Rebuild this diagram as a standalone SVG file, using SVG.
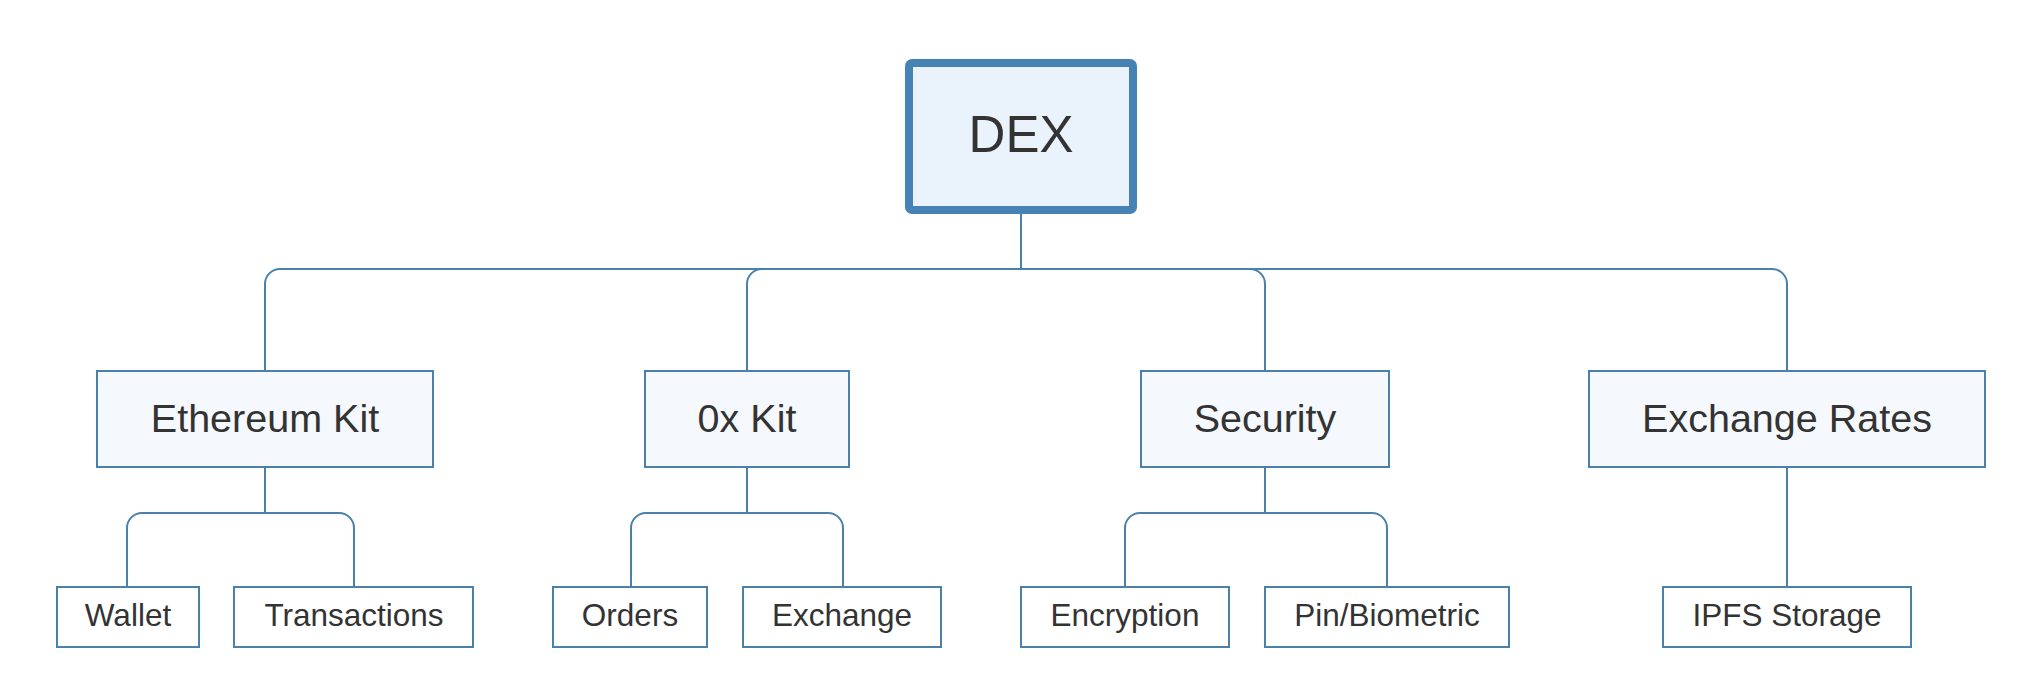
<svg xmlns="http://www.w3.org/2000/svg" width="2042" height="700" viewBox="0 0 2042 700">
<style>
.bg{fill:#ffffff}
.conn{fill:none;stroke:#4a80ac;stroke-width:2}
.root rect{fill:#eaf2fb;stroke:#4682b4;stroke-width:8}
.mid rect{fill:#f5f8fc;stroke:#4a80ac;stroke-width:2}
.leaf rect{fill:#ffffff;stroke:#4a80ac;stroke-width:2}
text{font-family:"Liberation Sans",Arial,Helvetica,sans-serif;fill:#333333;text-anchor:middle}
.root text{font-size:51px}
.mid text{font-size:39.5px}
.leaf text{font-size:31.5px}
</style>
<rect class="bg" x="0" y="0" width="2042" height="700"/>
<g id="connectors" class="conn">
<path d="M1021,214 V269 H280 A15,15 0 0 0 265,284 V371"/>
<path d="M1021,214 V269 H762 A15,15 0 0 0 747,284 V371"/>
<path d="M1021,214 V269 H1250 A15,15 0 0 1 1265,284 V371"/>
<path d="M1021,214 V269 H1772 A15,15 0 0 1 1787,284 V371"/>
<path d="M265,467 V513 H142 A15,15 0 0 0 127,528 V587"/>
<path d="M265,467 V513 H339 A15,15 0 0 1 354,528 V587"/>
<path d="M747,467 V513 H646 A15,15 0 0 0 631,528 V587"/>
<path d="M747,467 V513 H828 A15,15 0 0 1 843,528 V587"/>
<path d="M1265,467 V513 H1140 A15,15 0 0 0 1125,528 V587"/>
<path d="M1265,467 V513 H1372 A15,15 0 0 1 1387,528 V587"/>
<path d="M1787,467 V587"/>
</g>
<g id="dex" class="root"><rect x="909" y="63" width="224" height="147" rx="3"/><text x="1021" y="152">DEX</text></g>
<g id="ethereum-kit" class="mid"><rect x="97" y="371" width="336" height="96"/><text x="265" y="432">Ethereum Kit</text></g>
<g id="0x-kit" class="mid"><rect x="645" y="371" width="204" height="96"/><text x="747" y="432">0x Kit</text></g>
<g id="security" class="mid"><rect x="1141" y="371" width="248" height="96"/><text x="1265" y="432">Security</text></g>
<g id="exchange-rates" class="mid"><rect x="1589" y="371" width="396" height="96"/><text x="1787" y="432">Exchange Rates</text></g>
<g id="wallet" class="leaf"><rect x="57" y="587" width="142" height="60"/><text x="128" y="626">Wallet</text></g>
<g id="transactions" class="leaf"><rect x="234" y="587" width="239" height="60"/><text x="354" y="626">Transactions</text></g>
<g id="orders" class="leaf"><rect x="553" y="587" width="154" height="60"/><text x="630" y="626">Orders</text></g>
<g id="exchange" class="leaf"><rect x="743" y="587" width="198" height="60"/><text x="842" y="626">Exchange</text></g>
<g id="encryption" class="leaf"><rect x="1021" y="587" width="208" height="60"/><text x="1125" y="626">Encryption</text></g>
<g id="pin-biometric" class="leaf"><rect x="1265" y="587" width="244" height="60"/><text x="1387" y="626">Pin/Biometric</text></g>
<g id="ipfs-storage" class="leaf"><rect x="1663" y="587" width="248" height="60"/><text x="1787" y="626">IPFS Storage</text></g>
</svg>
